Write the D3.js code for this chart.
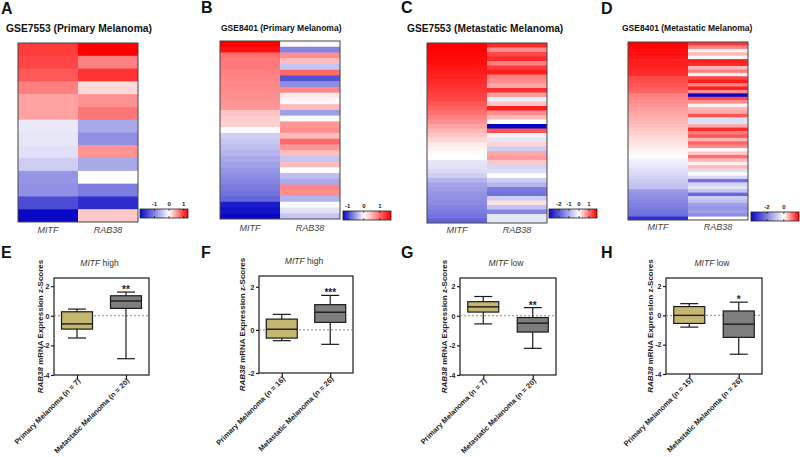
<!DOCTYPE html>
<html><head><meta charset="utf-8">
<script src="https://cdn.jsdelivr.net/npm/d3@7"></script>
<style>body{margin:0;background:#fff}svg{display:block;font-family:"Liberation Sans",Arial,sans-serif}</style>
</head><body><svg id="c" width="800" height="457"></svg>
<script>
// ---------- DATA ----------
const genes = ["MITF", "RAB38"];
const heatA_MITF  = [1.0, 0.95, 0.85, 0.65, 0.48, 0.48, -0.18, -0.2, -0.25, -0.4, -0.85, -0.9, -1.45, -2.0];
const heatA_RAB38 = [1.3, 0.65, 1.05, 0.2, 0.55, 0.7, -0.7, -0.9, 0.55, -0.7, 0.0, -1.05, -1.7, 0.28];
const heatB_MITF  = [1.7, 1.6, 0.95, 0.9, 0.88, 0.85, 0.82, 0.8, 0.78, 0.75, 0.72, 0.7, 0.4, 0.35, 0.3, 0.0,
                     -0.25, -0.3, -0.35, -0.4, -0.45, -0.5, -0.55, -0.6, -0.65, -0.7, -0.75, -0.8, -1.2, -1.25, -1.3];
const heatB_RAB38 = [0.05, -0.65, 0.75, 0.45, -0.3, 1.0, -0.9, -0.6, 0.8, 0.15, 0.05, 0.45, -0.5, 0.0, 0.7, 0.75,
                     0.45, 1.0, 0.7, 0.45, -0.3, 0.45, 0.0, -0.35, -0.45, 0.8, 0.75, -0.4, 0.0, -0.15, -0.3];
const heatC_MITF  = [1.8, 1.78, 1.75, 1.72, 1.7, 1.65, 1.6, 1.55, 1.5, 1.45, 1.4, 1.35, 1.3, 1.2, 1.1, 1.0, 0.9, 0.8, 0.65, 0.5,
                     0.4, 0.3, 0.15, 0.08, 0.03, 0.0, -0.3, -0.35, -0.45, -0.6, -0.9, -1.1, -1.2, -1.3, -1.35, -1.4, -1.5, -1.6, -1.7, -1.9];
const heatC_RAB38 = [1.5, 0.8, 1.3, 1.5, 0.9, 1.4, 1.6, 0.9, 0.8, 0.6, 1.5, 0.7, -0.2, 0.4, 1.6, 0.8, 0.5, 0.0, -3.0, 1.2,
                     0.1, -0.3, 0.3, -0.6, 0.6, 0.7, 0.4, -0.5, -0.4, 0.0, -0.6, -0.9, -1.6, -1.7, -0.6, 0.2, -0.7, -1.5, -0.3, -0.3];
const heatD_MITF  = [1.8, 1.75, 1.7, 1.7, 1.65, 1.6, 1.6, 1.55, 1.5, 1.5, 1.3, 1.25, 1.2, 1.15, 1.1,
                     0.9, 0.85, 0.8, 0.75, 0.7, 0.65, 0.6, 0.55, 0.5, 0.45, 0.4, 0.35, 0.3, 0.25, 0.2, 0.15, 0.1, 0.05, 0.0,
                     -0.2, -0.3, -0.4, -0.5, -0.6, -0.7, -0.8, -0.9, -1.0, -1.6, -1.7, -1.8, -1.9, -2.0, -2.1, -2.2, -2.3, -3.3];
const heatD_RAB38 = [1.4, 0.9, 0.1, 0.5, 0.05, 1.6, 1.5, 0.5, 0.9, 0.1, 1.3, 1.6, 0.9, 1.6, 0.8, -3.9, 1.3, 0.8, 0.1, 0.5,
                     0.6, 1.2, -0.5, -0.5, 0.6, 1.5, 0.9, 1.2, 0.5, 1.1, 0.8, 0.05, 0.4, 1.0, 0.5, 0.1, 0.5, -0.5, 0.0, -0.6,
                     -2.2, -0.7, -0.4, -0.9, -2.4, -0.8, -1.0, -1.5, -1.7, -1.5, -1.8, 0.0];
const legendTicksA = [-1, 0, 1], legendTicksB = [-1, 0, 1], legendTicksC = [-2, -1, 0, 1], legendTicksD = [-2, 0];

const boxGroups = ["Primary Melanoma", "Metastatic Melanoma"];
// [min, q1, median, q3, max]
const boxE = [[-1.5, -0.9, -0.55, 0.27, 0.45], [-2.9, 0.5, 1.0, 1.35, 1.6]];
const boxF = [[-0.5, -0.38, 0.03, 0.5, 0.72], [-0.67, 0.35, 0.82, 1.17, 1.6]];
const boxG = [[-0.55, 0.25, 0.6, 0.95, 1.3], [-2.2, -1.1, -0.5, -0.12, 0.55]];
const boxH = [[-0.8, -0.55, 0.0, 0.6, 0.8], [-2.65, -1.5, -0.6, 0.3, 0.9]];
const nE = [7, 20], nF = [16, 26], nG = [7, 20], nH = [15, 26];
const yTicks4 = [-4, -2, 0, 2], yTicks2 = [-2, 0, 2];

// ---------- DRAW ----------
const svg = d3.select("#c");
const BLUE = "rgb(8,8,196)", RED = "rgb(255,0,0)";
const FONT = "'Liberation Sans',Arial,sans-serif";

function letter(t, x, y) {
  svg.append("text").attr("x", x).attr("y", y).attr("font-size", 16).attr("font-weight", "bold")
    .attr("fill", "#111").text(t);
}

function heatmap(c) {
  const g = svg.append("g");
  const n = c.mitf.length;
  const [mn, mx] = d3.extent(c.mitf.concat(c.rab));
  const color = d3.scaleLinear().domain([mn, 0, mx]).range([BLUE, "#ffffff", RED]);
  const x = d3.scaleBand().domain(genes).range([c.x0, c.x1]);
  const y = d3.scaleBand().domain(d3.range(n)).range([c.y0, c.y1]);
  const cells = [];
  genes.forEach((gn, j) => (j ? c.rab : c.mitf).forEach((v, i) => cells.push({ gn, i, v })));
  g.selectAll("rect.cell").data(cells).join("rect").attr("class", "cell")
    .attr("x", d => x(d.gn)).attr("y", d => y(d.i))
    .attr("width", d => d.gn === "MITF" ? x.bandwidth() + 0.4 : x.bandwidth())
    .attr("height", d => d.i === n - 1 ? y.bandwidth() : y.bandwidth() + 0.6)
    .attr("fill", d => color(d.v));
  g.append("rect").attr("x", c.x0).attr("y", c.y0).attr("width", c.x1 - c.x0).attr("height", c.y1 - c.y0)
    .attr("fill", "none").attr("stroke", "#444").attr("stroke-width", 1);
  svg.append("text").attr("x", c.tx).attr("y", c.ty).attr("font-size", c.ts).attr("font-weight", "bold")
    .attr("fill", "#111").text(c.title);
  g.selectAll("text.col").data(genes).join("text").attr("class", "col")
    .attr("x", d => x(d) + x.bandwidth() / 2).attr("y", c.y1 + c.ly)
    .attr("text-anchor", "middle").attr("font-size", 9).attr("font-style", "italic").attr("fill", "#444").text(d => d);
  const id = "grad" + c.title.replace(/\W/g, "");
  const grad = svg.append("defs").append("linearGradient").attr("id", id);
  grad.selectAll("stop").data([mn, 0, mx]).join("stop")
    .attr("offset", d => (d - mn) / (mx - mn)).attr("stop-color", d => color(d));
  const lw = 48, lh = 9;
  const lx = d3.scaleLinear().domain([mn, mx]).range([c.lgx, c.lgx + lw]);
  g.append("rect").attr("x", c.lgx).attr("y", c.lgy).attr("width", lw).attr("height", lh)
    .attr("fill", `url(#${id})`).attr("stroke", "#222").attr("stroke-width", 0.8);
  c.ticks.forEach(t => {
    g.append("line").attr("x1", lx(t)).attr("x2", lx(t)).attr("y1", c.lgy).attr("y2", c.lgy + 1.8).attr("stroke", "#111").attr("stroke-width", 0.8);
    g.append("line").attr("x1", lx(t)).attr("x2", lx(t)).attr("y1", c.lgy + lh - 1.8).attr("y2", c.lgy + lh).attr("stroke", "#111").attr("stroke-width", 0.8);
    g.append("text").attr("x", lx(t)).attr("y", c.lgy - 3).attr("text-anchor", "middle")
      .attr("font-size", 6).attr("font-weight", "bold").attr("fill", "#222").text(String(t));
  });
}

heatmap({ title: "GSE7553 (Primary Melanoma)", tx: 6, ty: 32, ts: 10.3, mitf: heatA_MITF, rab: heatA_RAB38,
  x0: 18, x1: 138, y0: 43, y1: 222, ly: 11, lgx: 140, lgy: 209, ticks: legendTicksA });
heatmap({ title: "GSE8401 (Primary Melanoma)", tx: 221, ty: 31, ts: 8.5, mitf: heatB_MITF, rab: heatB_RAB38,
  x0: 220, x1: 340, y0: 41, y1: 219, ly: 12, lgx: 343, lgy: 211, ticks: legendTicksB });
heatmap({ title: "GSE7553 (Metastatic Melanoma)", tx: 407, ty: 32, ts: 10.2, mitf: heatC_MITF, rab: heatC_RAB38,
  x0: 427, x1: 547, y0: 43, y1: 223, ly: 10, lgx: 549, lgy: 209, ticks: legendTicksC });
heatmap({ title: "GSE8401 (Metastatic Melanoma)", tx: 622, ty: 31, ts: 8.5, mitf: heatD_MITF, rab: heatD_RAB38,
  x0: 628, x1: 748, y0: 42, y1: 220, ly: 10, lgx: 751, lgy: 212, ticks: legendTicksD });

letter("A", 1, 14); letter("B", 201, 13); letter("C", 401, 13); letter("D", 601, 14);
letter("E", 1, 258); letter("F", 201, 258); letter("G", 401, 258); letter("H", 601, 258);

const fills = ["#c6b770", "#7e7e7e"];
const STROKE = "#1a1a1a";

function boxplot(c) {
  const g = svg.append("g");
  const y = d3.scaleLinear().domain(c.domain).range([c.yb, c.yt]);
  const x = d3.scalePoint().domain(boxGroups).range([c.xl, c.xr]).padding(0.47);
  const bw = 31, cw = 18;
  g.append("rect").attr("x", c.xl).attr("y", c.yt).attr("width", c.xr - c.xl).attr("height", c.yb - c.yt)
    .attr("fill", "none").attr("stroke", STROKE).attr("stroke-width", 1.2);
  g.append("line").attr("x1", c.xl).attr("x2", c.xr).attr("y1", y(0)).attr("y2", y(0))
    .attr("stroke", "#8a8a8a").attr("stroke-width", 1).attr("stroke-dasharray", "2,2");
  const ay = g.append("g").attr("transform", `translate(${c.xl},0)`)
    .call(d3.axisLeft(y).tickValues(c.ticks).tickSize(3).tickPadding(1.5).tickFormat(d => String(d)));
  ay.select(".domain").remove();
  ay.selectAll("line").attr("stroke", STROKE).attr("stroke-width", 1.2);
  ay.selectAll("text").attr("font-size", 7).attr("font-weight", "bold").attr("fill", "#222").attr("font-family", FONT);
  const ax = g.append("g").attr("transform", `translate(0,${c.yb})`)
    .call(d3.axisBottom(x).tickSize(4).tickFormat(""));
  ax.select(".domain").remove();
  ax.selectAll("line").attr("stroke", STROKE).attr("stroke-width", 1.2);
  g.selectAll("text.cat").data(boxGroups).join("text").attr("class", "cat")
    .attr("transform", d => `translate(${x(d) + 2},${c.yb + 4.5}) rotate(-45)`)
    .attr("text-anchor", "end").attr("dy", "0.35em").attr("font-size", 7.4).attr("font-weight", "bold").attr("fill", "#222")
    .text((d, i) => `${d} (n = ${c.n[i]})`);
  const items = boxGroups.map((k, i) => ({ k, s: c.data[i], i }));
  const b = g.selectAll("g.box").data(items).join("g").attr("class", "box");
  b.append("line").attr("x1", d => x(d.k)).attr("x2", d => x(d.k)).attr("y1", d => y(d.s[0])).attr("y2", d => y(d.s[4]))
    .attr("stroke", STROKE).attr("stroke-width", 1.2);
  b.append("line").attr("x1", d => x(d.k) - cw / 2).attr("x2", d => x(d.k) + cw / 2).attr("y1", d => y(d.s[0])).attr("y2", d => y(d.s[0]))
    .attr("stroke", STROKE).attr("stroke-width", 1.2);
  b.append("line").attr("x1", d => x(d.k) - cw / 2).attr("x2", d => x(d.k) + cw / 2).attr("y1", d => y(d.s[4])).attr("y2", d => y(d.s[4]))
    .attr("stroke", STROKE).attr("stroke-width", 1.2);
  b.append("rect").attr("x", d => x(d.k) - bw / 2).attr("width", bw).attr("y", d => y(d.s[3])).attr("height", d => y(d.s[1]) - y(d.s[3]))
    .attr("fill", d => fills[d.i]).attr("stroke", STROKE).attr("stroke-width", 1.2);
  b.append("line").attr("x1", d => x(d.k) - bw / 2).attr("x2", d => x(d.k) + bw / 2).attr("y1", d => y(d.s[2])).attr("y2", d => y(d.s[2]))
    .attr("stroke", STROKE).attr("stroke-width", 1.4);
  g.append("text").attr("x", x(boxGroups[1])).attr("y", y(c.data[1][4]) + 1).attr("text-anchor", "middle")
    .attr("font-size", 10).attr("font-weight", "bold").attr("fill", "#222").text(c.star);
  const t = g.append("text").attr("x", (c.xl + c.xr) / 2 - 2).attr("y", c.yt - 12).attr("text-anchor", "middle")
    .attr("font-size", 8.5).attr("fill", "#333");
  t.append("tspan").attr("font-style", "italic").text("MITF");
  t.append("tspan").text(" " + c.level);
  const yl = g.append("text").attr("transform", `translate(${c.xl - c.yloff},${(c.yt + c.yb) / 2}) rotate(-90)`)
    .attr("text-anchor", "middle").attr("font-size", 8).attr("font-weight", "bold").attr("fill", "#222");
  yl.append("tspan").attr("font-style", "italic").text("RAB38");
  yl.append("tspan").text(" mRNA Expression z-Scores");
}

boxplot({ xl: 54, xr: 149, yt: 278, yb: 375, domain: [-4, 2.55], ticks: yTicks4, data: boxE, n: nE, star: "**", level: "high", yloff: 11 });
boxplot({ xl: 259, xr: 353, yt: 276, yb: 373, domain: [-2, 2.5], ticks: yTicks2, data: boxF, n: nF, star: "***", level: "high", yloff: 14 });
boxplot({ xl: 460, xr: 556, yt: 278, yb: 375, domain: [-4, 2.55], ticks: yTicks4, data: boxG, n: nG, star: "**", level: "low", yloff: 13 });
boxplot({ xl: 666, xr: 762, yt: 278, yb: 374, domain: [-4, 2.55], ticks: yTicks4, data: boxH, n: nH, star: "*", level: "low", yloff: 13 });
</script></body></html>
